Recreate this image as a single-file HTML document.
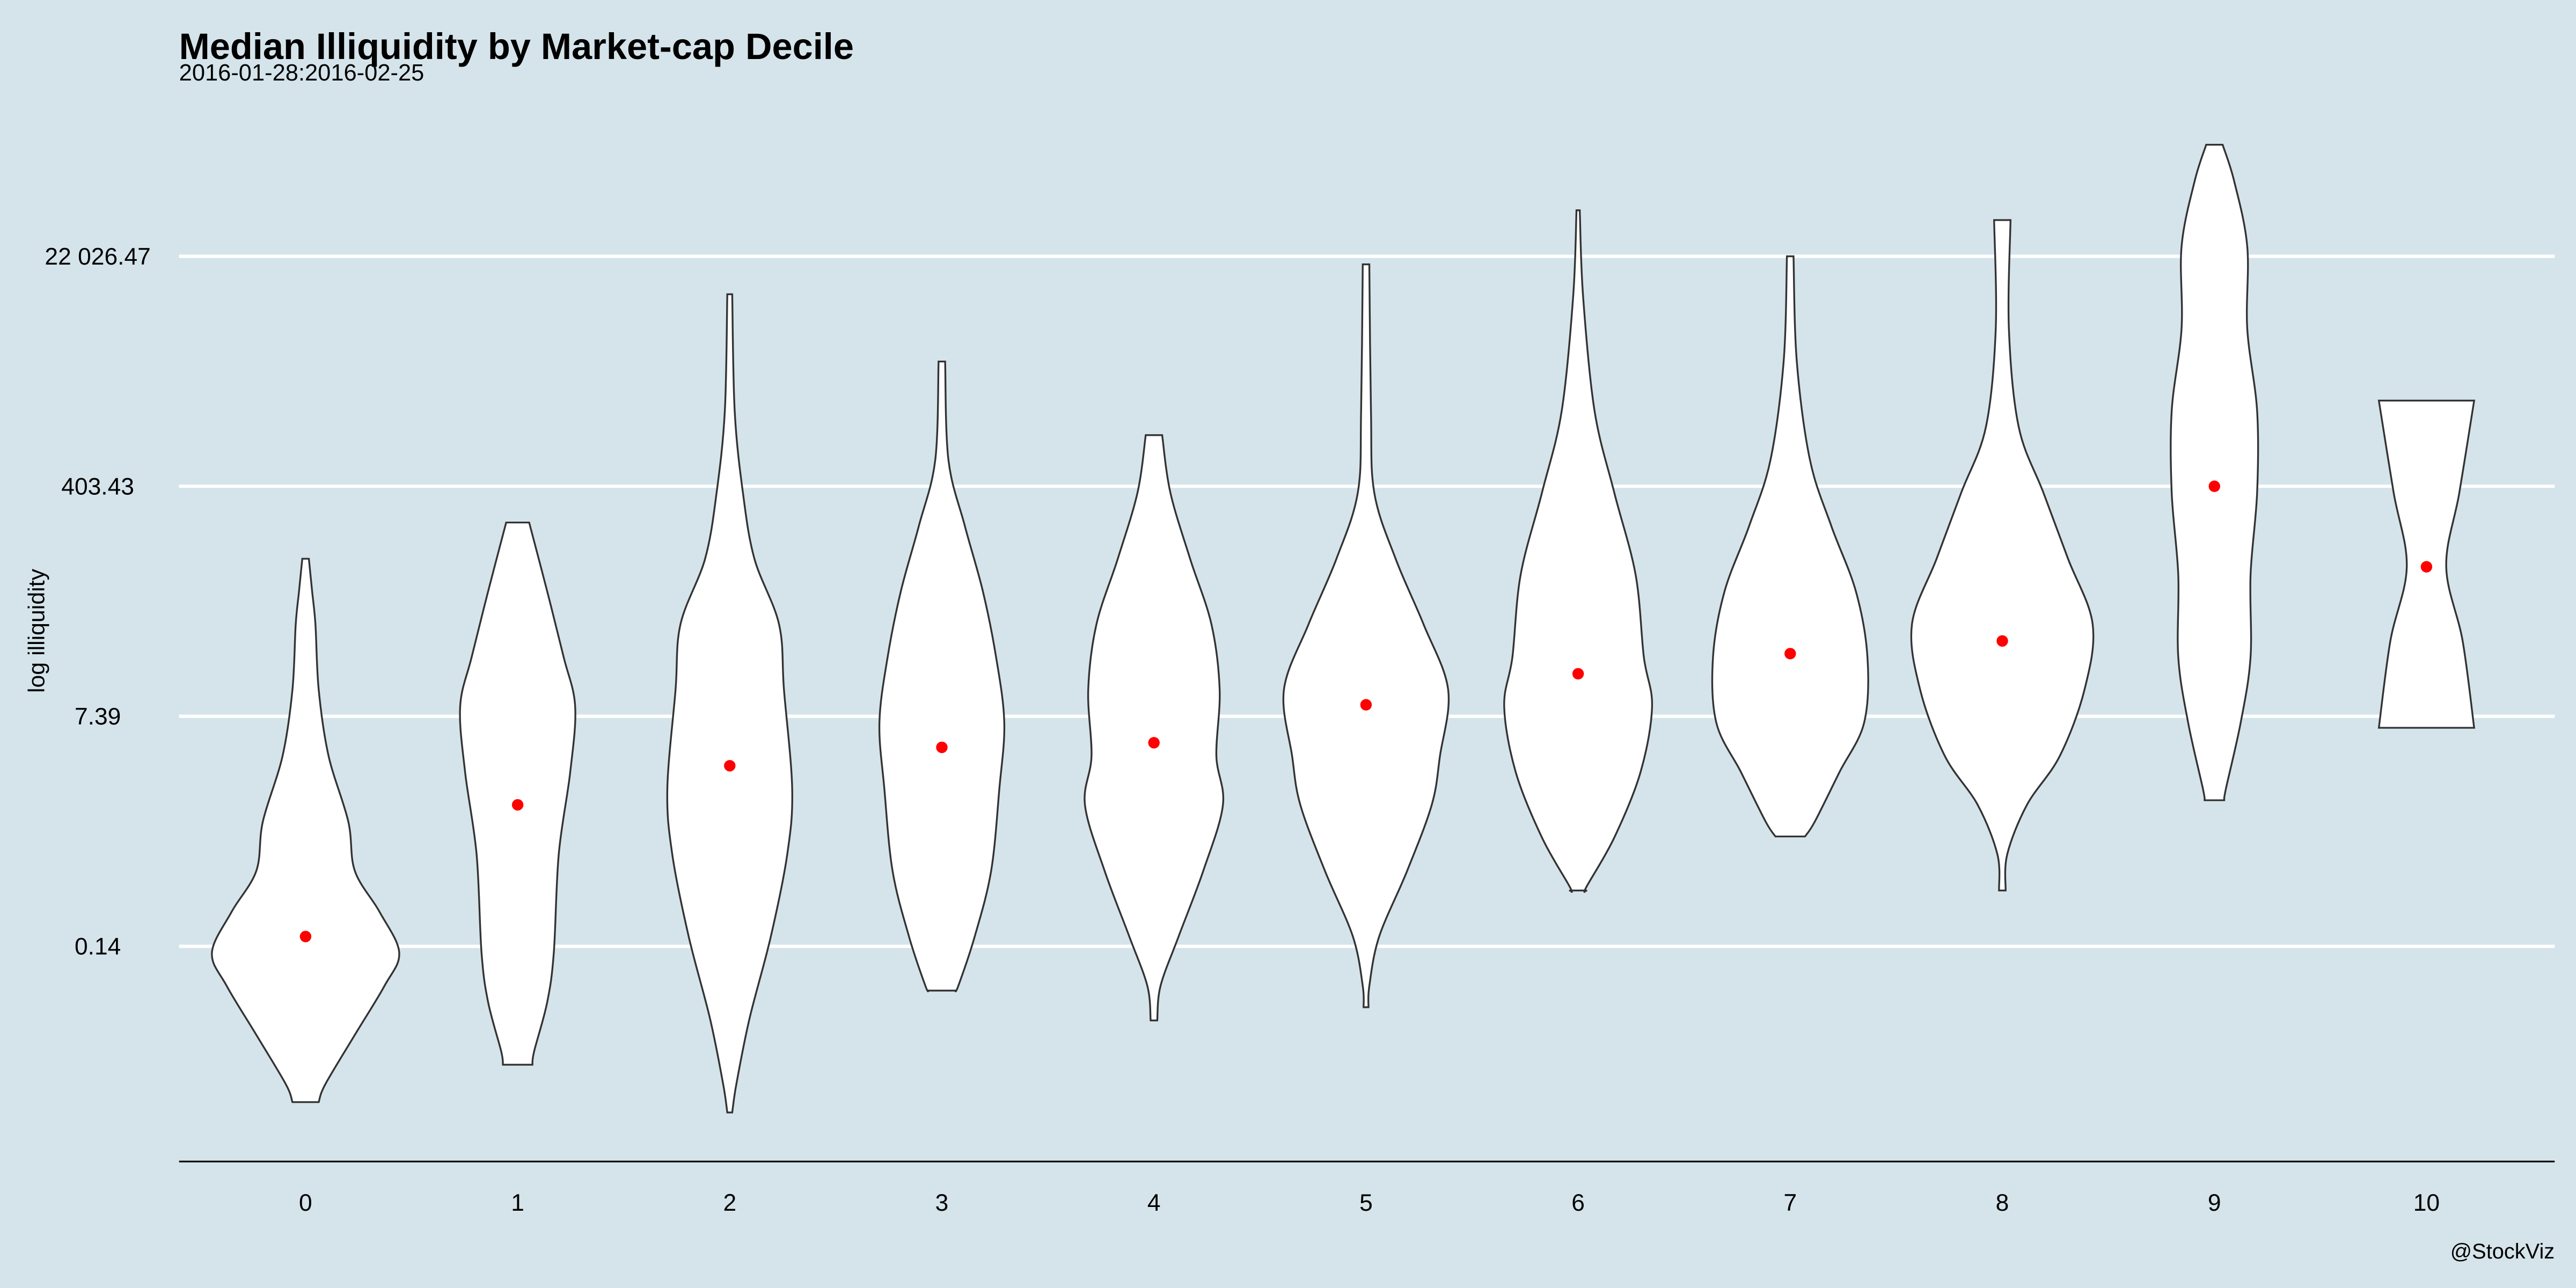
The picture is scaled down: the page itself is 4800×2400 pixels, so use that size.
<!DOCTYPE html>
<html><head><meta charset="utf-8"><style>
html,body{margin:0;padding:0;background:#d5e4eb;}
svg{display:block;font-family:"Liberation Sans",Arial,sans-serif;}
</style></head><body>
<svg id="chart" width="4800" height="2400" viewBox="0 0 1568 784" xmlns="http://www.w3.org/2000/svg">
<rect x="0" y="0" width="1568" height="784" fill="#d5e4eb"/>
<text x="109" y="36" font-size="22.4" font-weight="bold" fill="#000">Median Illiquidity by Market-cap Decile</text>
<text x="109" y="49" font-size="14.2" fill="#000">2016-01-28:2016-02-25</text>
<text transform="translate(27,384) rotate(-90)" text-anchor="middle" font-size="14" fill="#000">log illiquidity</text>
<text x="1555" y="766" text-anchor="end" font-size="13" fill="#000">@StockViz</text>
<g id="grid"></g>
<g id="violins"></g>
<g id="points"></g>
<g id="axis"></g>
</svg>
<script>
const categories = ["0","1","2","3","4","5","6","7","8","9","10"];
const yTickValues = [-2, 2, 6, 10];
const yTickLabels = ["0.14", "7.39", "403.43", "22 026.47"];
const medians = [-1.83, 0.46, 1.14, 1.46, 1.54, 2.2, 2.74, 3.09, 3.31, 6.0, 4.6];
// violin profiles: [log value, half-width (density scaled)]
const v0 = [[4.74,2],[4.17,4],[3.6,6],[2.46,8],[1.31,14],[0.17,26],[-0.69,30],[-1.4,45],[-2.11,57],[-2.69,48],[-3.54,30],[-4.4,12],[-4.71,8]];
const v1 = [[5.37,7],[4.17,18],[3.03,28],[2.17,35],[1.03,32],[-0.4,25],[-2.11,22],[-2.97,18],[-3.83,10],[-4.06,9]];
const v2 = [[9.34,1.5],[7.31,3],[5.89,8],[4.74,15],[3.6,30],[2.46,33],[0.74,38],[-0.4,35],[-1.83,25],[-3.26,12],[-4.4,4],[-4.89,1.5]];
const v3 = [[8.17,2],[6.46,4],[5.31,14],[4.17,25],[3.03,33],[1.89,38],[0.74,35],[-0.69,30],[-1.83,20],[-2.69,10],[-2.77,8]];
const v4 = [[6.89,5],[5.89,10],[4.74,22],[3.6,35],[2.46,40],[1.31,38],[0.46,42],[-0.69,30],[-1.83,15],[-2.69,4],[-3.29,2]];
const v5 = [[9.86,2],[7.31,3],[5.89,5],[4.74,18],[3.6,35],[2.46,50],[1.31,45],[0.46,40],[-0.69,25],[-1.83,8],[-2.69,2],[-3.06,1.5]];
const v6 = [[10.8,1],[9.31,3],[7.31,10],[5.89,22],[4.46,35],[3.03,40],[2.17,45],[1.03,38],[-0.11,22],[-0.97,5],[-1.03,5]];
const v7 = [[10.0,2],[8.17,4],[6.46,12],[5.31,25],[4.17,40],[3.03,47],[1.89,45],[1.03,30],[0.17,15],[-0.09,9]];
const v8 = [[10.63,5],[8.74,4],[7.03,10],[5.89,25],[4.74,40],[3.6,55],[2.46,50],[1.31,35],[0.46,15],[-0.4,3],[-1.03,2]];
const v9 = [[11.94,5],[11.31,12],[10.17,20],[8.74,20],[7.31,26],[5.89,26],[4.46,22],[3.03,22],[1.89,16],[0.74,7],[0.54,6]];
const v10 = [[7.49,29],[5.89,20],[4.6,12],[3.31,22],[1.8,29]];
const violins = [v0,v1,v2,v3,v4,v5,v6,v7,v8,v9,v10];

const NS = "http://www.w3.org/2000/svg";
function yScale(v){ return 576 - (v + 2) * 35; }
function xScale(i){ return 186 + i * 129.1; }
const X0 = 109, X1 = 1555;

function smooth(pts){
  let d = "M" + pts[0][0] + "," + pts[0][1];
  for (let i = 0; i < pts.length - 1; i++) {
    const p0 = pts[Math.max(i-1,0)], p1 = pts[i], p2 = pts[i+1], p3 = pts[Math.min(i+2,pts.length-1)];
    const c1x = p1[0] + (p2[0]-p0[0])/6, c1y = p1[1] + (p2[1]-p0[1])/6;
    const c2x = p2[0] - (p3[0]-p1[0])/6, c2y = p2[1] - (p3[1]-p1[1])/6;
    d += " C" + c1x + "," + c1y + " " + c2x + "," + c2y + " " + p2[0] + "," + p2[1];
  }
  return d;
}

const grid = document.getElementById("grid");
yTickValues.forEach((v, k) => {
  const y = yScale(v);
  const ln = document.createElementNS(NS, "line");
  ln.setAttribute("x1", X0); ln.setAttribute("x2", X1);
  ln.setAttribute("y1", y); ln.setAttribute("y2", y);
  ln.setAttribute("stroke", "#ffffff"); ln.setAttribute("stroke-width", "2");
  
  
  grid.appendChild(ln);
  const t = document.createElementNS(NS, "text");
  t.setAttribute("x", 59.5); t.setAttribute("y", y + 5);
  t.setAttribute("text-anchor", "middle"); t.setAttribute("font-size", "14.5");
  t.textContent = yTickLabels[k];
  
  
  grid.appendChild(t);
});

const vg = document.getElementById("violins");
violins.forEach((prof, i) => {
  const cx = xScale(i);
  const left = prof.map(p => [cx - p[1], yScale(p[0])]);
  const right = prof.map(p => [cx + p[1], yScale(p[0])]).reverse();
  let d = smooth(left);
  d += " L" + right[0][0] + "," + right[0][1];
  d += smooth(right).replace(/^M[^C]*/, " ");
  d += " Z";
  const path = document.createElementNS(NS, "path");
  path.setAttribute("d", d);
  path.setAttribute("fill", "#ffffff");
  path.setAttribute("stroke", "#333333");
  path.setAttribute("stroke-width", "1.1");
  
  
  vg.appendChild(path);
});

const pg = document.getElementById("points");
medians.forEach((m, i) => {
  const c = document.createElementNS(NS, "circle");
  c.setAttribute("cx", xScale(i)); c.setAttribute("cy", yScale(m));
  c.setAttribute("r", 3.5); c.setAttribute("fill", "#ff0000");
  
  
  pg.appendChild(c);
});

const ax = document.getElementById("axis");
const base = document.createElementNS(NS, "line");
base.setAttribute("x1", X0); base.setAttribute("x2", X1);
base.setAttribute("y1", 707); base.setAttribute("y2", 707);
base.setAttribute("stroke", "#000"); base.setAttribute("stroke-width", "1");


ax.appendChild(base);
categories.forEach((c, i) => {
  const t = document.createElementNS(NS, "text");
  t.setAttribute("x", xScale(i)); t.setAttribute("y", 737);
  t.setAttribute("text-anchor", "middle"); t.setAttribute("font-size", "14.5");
  t.textContent = c;
  
  
  ax.appendChild(t);
});
</script>
</body></html>
